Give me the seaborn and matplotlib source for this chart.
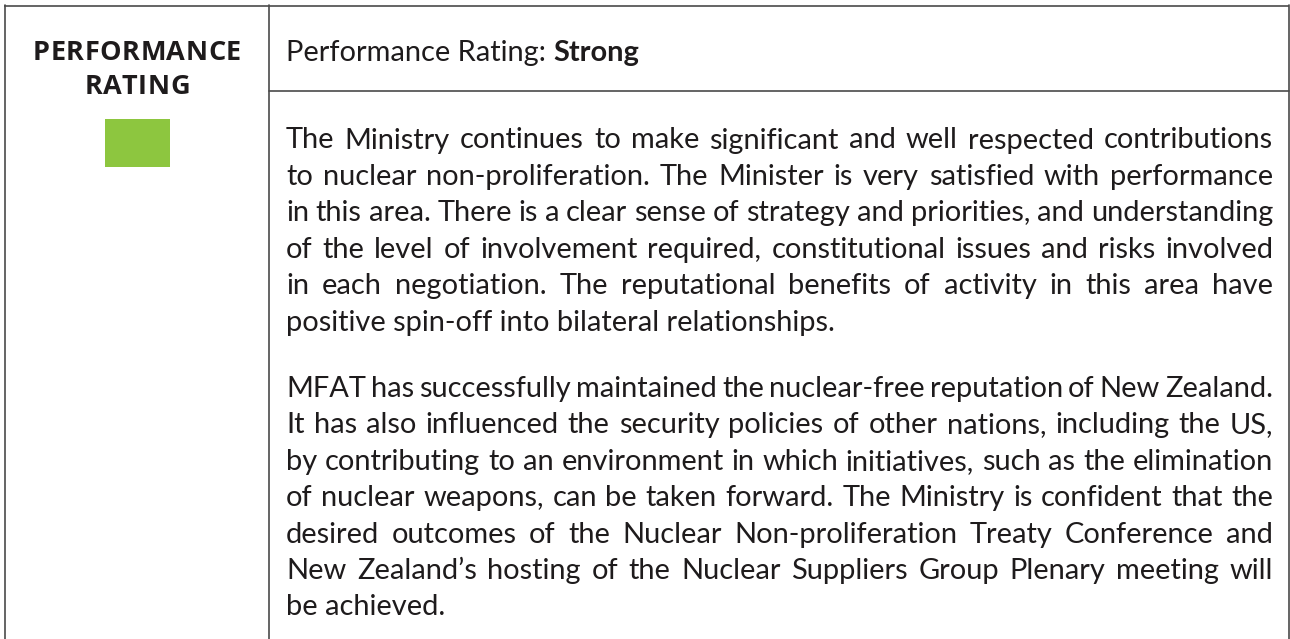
import matplotlib
matplotlib.use("Agg")
import matplotlib.pyplot as plt
import seaborn as sns
from matplotlib.patches import Rectangle

# ── Content ──────────────────────────────────────────────────────────────────
side_title = ["PERFORMANCE", "RATING"]
rating_label = "Performance Rating:"
rating_value = "Strong"
rating_colour = "#8DC63F"

para_one = [
    "The Ministry continues to make significant and well respected contributions",
    "to nuclear non-proliferation. The Minister is very satisfied with performance",
    "in this area. There is a clear sense of strategy and priorities, and understanding",
    "of the level of involvement required, constitutional issues and risks involved",
    "in each negotiation. The reputational benefits of activity in this area have",
    "positive spin-off into bilateral relationships.",
]
para_two = [
    "MFAT has successfully maintained the nuclear-free reputation of New Zealand.",
    "It has also influenced the security policies of other nations, including the US,",
    "by contributing to an environment in which initiatives, such as the elimination",
    "of nuclear weapons, can be taken forward. The Ministry is confident that the",
    "desired outcomes of the Nuclear Non-proliferation Treaty Conference and",
    "New Zealand\u2019s hosting of the Nuclear Suppliers Group Plenary meeting will",
    "be achieved.",
]

# ── Style ────────────────────────────────────────────────────────────────────
sns.set_theme(style="white")
plt.rcParams["font.family"] = ["Lato", "DejaVu Sans"]

INK = "#1e1b1c"
RULE = "#4a4a4a"
W, H = 1290, 639

fig = plt.figure(figsize=(W / 100, H / 100), dpi=100)
ax = fig.add_axes([0, 0, 1, 1])
ax.set_xlim(0, W)
ax.set_ylim(H, 0)
ax.axis("off")
renderer = fig.canvas.get_renderer()


def width_of(s, **kw):
    t = ax.text(0, 0, s, **kw)
    w = t.get_window_extent(renderer=renderer).width
    t.remove()
    return w


# ── Table rules ──────────────────────────────────────────────────────────────
lw = 1.2
ax.plot([4, 1289], [5.5, 5.5], color=RULE, lw=lw, solid_capstyle="butt")
ax.plot([4.5, 4.5], [5, H], color=RULE, lw=lw)
ax.plot([269, 269], [5, H], color=RULE, lw=lw)
ax.plot([1288.5, 1288.5], [5, H], color=RULE, lw=lw)
ax.plot([269, 1289], [90.5, 90.5], color=RULE, lw=lw)

# ── Left column: title + rating swatch ───────────────────────────────────────
head_kw = dict(family=["Open Sans", "DejaVu Sans"], fontweight="bold",
               fontsize=19.5, color=INK, va="baseline", ha="left")
chars = list(side_title[0])
cw = [width_of(c, **head_kw) for c in chars]
track = (208 - sum(cw)) / (len(chars) - 1)
for word, base in zip(side_title, [59.5, 94.5]):
    ws = [width_of(c, **head_kw) for c in word]
    total = sum(ws) + track * (len(word) - 1)
    x = 137 - total / 2
    for c, w in zip(word, ws):
        ax.text(x, base, c, **head_kw)
        x += w + track

ax.add_patch(Rectangle((105, 119), 65, 48, facecolor=rating_colour, edgecolor="none"))

# ── Right column text ────────────────────────────────────────────────────────
LEFT, RIGHT = 286, 1273
col_w = RIGHT - LEFT
size = 21.5 / 0.7165 * 0.72
body_kw = dict(fontsize=size, color=INK, va="baseline", ha="left")

# shrink the type only as far as needed for the tightest justified line
space = width_of("a a", **body_kw) - width_of("aa", **body_kw)
need = 0
for line in para_one[:-1] + para_two[:-1]:
    words = line.split(" ")
    need = max(need, sum(width_of(w, **body_kw) for w in words)
               + (len(words) - 1) * 0.7 * space)
if need > col_w:
    size *= col_w / need
    body_kw["fontsize"] = size

space = width_of("a a", **body_kw) - width_of("aa", **body_kw)
ax.text(LEFT, 60.5, rating_label, **body_kw)
lab_w = width_of(rating_label, **body_kw)
ax.text(LEFT + lab_w + space, 60.5, rating_value, fontweight="bold", **body_kw)


def draw_paragraph(lines, first_base, step=36.4):
    for i, line in enumerate(lines):
        y = first_base + i * step
        if i == len(lines) - 1:
            ax.text(LEFT, y, line, **body_kw)
            continue
        words = line.split(" ")
        ws = [width_of(w, **body_kw) for w in words]
        gap = (col_w - sum(ws)) / (len(words) - 1)
        x = LEFT
        for w, wd in zip(words, ws):
            ax.text(x, y, w, **body_kw)
            x += wd + gap


draw_paragraph(para_one, 148.5)
draw_paragraph(para_two, 397.0)

fig.savefig("out.png", dpi=100, facecolor="white")
